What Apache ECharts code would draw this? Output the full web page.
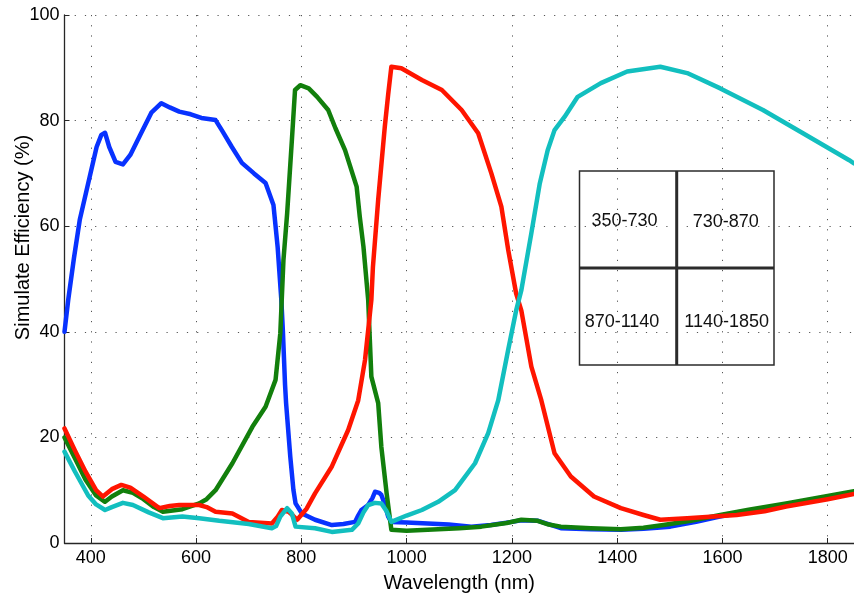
<!DOCTYPE html>
<html>
<head>
<meta charset="utf-8">
<script src="https://cdn.jsdelivr.net/npm/echarts@6/dist/echarts.min.js"></script>
<style>
html,body{margin:0;padding:0;background:#fff;}
#chart{width:854px;height:598px;}
</style>
</head>
<body>
<div id="chart"></div>
<script>
// Wavelength ticks (nm)
const xTicks = [400, 600, 800, 1000, 1200, 1400, 1600, 1800];

// Blue curve (350-730 band)
const blueX = [350,357,368,379,398,411,420,427,435,447,461,475,495,515,534,550,568,590,610,637,650,668,687,710,732,747,755,762,765,769,771,779,785,789,801,826,858,880,902,908,914,927,935,940,948,952,958,965,971,1000,1040,1080,1123,1160,1200,1218,1250,1293,1350,1407,1450,1501,1550,1595,1650,1721,1800,1850];
const blueY = [40,46,54,61.2,69.4,75,77.3,77.7,75,72.2,71.7,73.5,77.5,81.5,83.3,82.5,81.7,81.2,80.5,80.1,78,75,72,70,68.2,64,56,46,40,30,26.5,16.3,10,7.5,5.6,4.4,3.4,3.6,4.0,5.2,6.25,7.2,8.5,9.7,9.5,9.1,7.5,5,4.0,3.9,3.7,3.5,3.1,3.4,4.0,4.3,4.2,2.8,2.6,2.5,2.7,3.1,4.0,5.0,6.0,7.3,8.7,9.6];

// Green curve (730-870 band)
const greenX = [350,370,390,410,427,440,461,480,500,520,537,574,606,620,637,669,707,732,751,760,766,773,782,788,798,814,830,851,865,883,905,911,918,927,933,946,952,962,971,1000,1040,1100,1142,1190,1218,1249,1270,1293,1350,1407,1450,1488,1540,1596,1650,1721,1800,1850];
const greenY = [20,16,12,9,7.8,8.8,10,9.5,8.3,6.8,5.9,6.4,7.5,8.3,10,15.1,22,25.8,30.9,39.7,53.6,62.4,76.3,85.8,86.7,86.1,84.5,82,78.5,74.4,67.5,61.8,56.1,46,31.5,26.5,18.2,9.4,2.5,2.3,2.5,2.8,3.1,3.8,4.4,4.2,3.5,3.1,2.8,2.6,2.9,3.4,4.2,5.3,6.3,7.5,8.9,9.8];

// Red curve (870-1140 band)
const redX = [350,370,390,410,423,440,458,475,500,530,550,568,606,620,637,669,700,744,755,763,776,784,792,810,826,858,889,908,921,933,936,946,958.5,965,971,990,1029,1067,1104.5,1136,1161,1180,1193,1208,1218,1237,1256,1281,1312,1356,1407,1450,1482,1533,1627,1680,1721,1800,1850];
const redY = [21.7,17.5,13.5,10,8.8,10.2,11,10.5,8.8,6.6,7,7.2,7.2,6.8,5.9,5.6,4.0,3.7,5.0,6.25,5.9,5.2,4.4,6.5,9.4,14.5,21.4,27,34.7,46,52.3,65,78.8,85,90.2,89.9,87.7,85.8,82,77.6,70,63.7,55.5,47.3,44,33.4,27,17,12.6,8.8,6.6,5.3,4.4,4.7,5.3,6,6.9,8.3,9.3];

// Cyan curve (1140-1850 band)
const cyanX = [350,370,395,410,427,440,461,480,510,537,574,606,644,700,744,752,760,773,782,789,826,858,896,908,918,927,940,952,962,971,1000,1029,1060,1092,1130,1155,1174,1193,1208,1218,1237,1253,1268,1281,1300,1325,1369,1419,1482,1533,1596,1677,1753,1841,1850];
const cyanY = [17.3,13.5,9,7.3,6.25,6.8,7.6,7.2,5.8,4.7,5.0,4.7,4.2,3.6,2.8,3.2,5,6.6,5.6,3.1,2.8,2.1,2.5,3.7,5.8,7.2,7.6,7.5,6,4.0,5.2,6.25,7.8,10,15.1,20.8,27,36.6,44,47.9,58.7,68.1,74.4,78.2,80.7,84.5,87.1,89.3,90.2,89,86.1,82,77.6,72.5,71.9];

// Table labels
const bandLabels = ['350-730', '730-870', '870-1140', '1140-1850'];

function zip(xs, ys) { return xs.map((x, i) => [x, ys[i]]); }

const FONT = '"Liberation Sans", Arial, Helvetica, sans-serif';
const chart = echarts.init(document.getElementById('chart'), null, {renderer: 'canvas'});

function line(name, xs, ys, color) {
  return {
    name: name, type: 'line', data: zip(xs, ys), showSymbol: false, symbol: 'none',
    smooth: false, clip: true,
    lineStyle: {color: color, width: 4.5, join: 'round', cap: 'round'},
    emphasis: {disabled: true}
  };
}

// Table geometry (annotation box)
const bx0 = 579.5, bx1 = 774, by0 = 171, by1 = 365, bxm = 676.7, bym = 268;

chart.setOption({
  animation: false,
  backgroundColor: '#ffffff',
  grid: {left: 64.5, right: -4.8, top: 15, bottom: 55, containLabel: false},
  xAxis: {
    type: 'value', min: 350, max: 1850,
    name: 'Wavelength (nm)', nameLocation: 'middle', nameGap: 30,
    nameTextStyle: {fontFamily: FONT, fontSize: 20, color: '#000'},
    axisLine: {show: true, onZero: false, lineStyle: {color: '#262626', width: 1.3}},
    axisTick: {show: true, inside: true, length: 5, customValues: xTicks, lineStyle: {color: '#262626', width: 1}},
    axisLabel: {customValues: xTicks, margin: 6, fontFamily: FONT, fontSize: 18, color: '#000',
                formatter: function (v) { return String(v); }},
    splitLine: {show: true, lineStyle: {color: '#555', width: 1, type: [1.2, 9]}}
  },
  yAxis: {
    type: 'value', min: 0, max: 100, interval: 20,
    axisLine: {show: true, onZero: false, lineStyle: {color: '#262626', width: 1.3}},
    axisTick: {show: true, inside: true, length: 5, lineStyle: {color: '#262626', width: 1}},
    axisLabel: {margin: 5, fontFamily: FONT, fontSize: 18, color: '#000',
                formatter: function (v) { return String(v); }},
    splitLine: {show: true, lineStyle: {color: '#555', width: 1, type: [1.2, 9]}}
  },
  series: [
    line('350-730', blueX, blueY, '#0832ff'),
    line('730-870', greenX, greenY, '#127f0c'),
    line('870-1140', redX, redY, '#ff1500'),
    line('1140-1850', cyanX, cyanY, '#12bfbf')
  ],
  graphic: [
    {type: 'text', x: 23, y: 237.5, rotation: Math.PI / 2,
     style: {text: 'Simulate Efficiency (%)', font: '20px ' + FONT, fill: '#000', align: 'center', verticalAlign: 'middle'}, z: 100},
    {type: 'rect', shape: {x: bx0, y: by0, width: bx1 - bx0, height: by1 - by0},
     style: {fill: 'none', stroke: '#2b2b2b', lineWidth: 1.5}, z: 100},
    {type: 'line', shape: {x1: bxm, y1: by0, x2: bxm, y2: by1}, style: {stroke: '#2b2b2b', lineWidth: 3}, z: 100},
    {type: 'line', shape: {x1: bx0, y1: bym, x2: bx1, y2: bym}, style: {stroke: '#2b2b2b', lineWidth: 3}, z: 100},
    {type: 'text', x: 624.5, y: 221, style: {text: bandLabels[0], font: '18px ' + FONT, fill: '#111', align: 'center', verticalAlign: 'middle'}, z: 100},
    {type: 'text', x: 725.8, y: 222, style: {text: bandLabels[1], font: '18px ' + FONT, fill: '#111', align: 'center', verticalAlign: 'middle'}, z: 100},
    {type: 'text', x: 622, y: 322, style: {text: bandLabels[2], font: '18px ' + FONT, fill: '#111', align: 'center', verticalAlign: 'middle'}, z: 100},
    {type: 'text', x: 726.7, y: 322, style: {text: bandLabels[3], font: '18px ' + FONT, fill: '#111', align: 'center', verticalAlign: 'middle'}, z: 100}
  ]
});
</script>
</body>
</html>
